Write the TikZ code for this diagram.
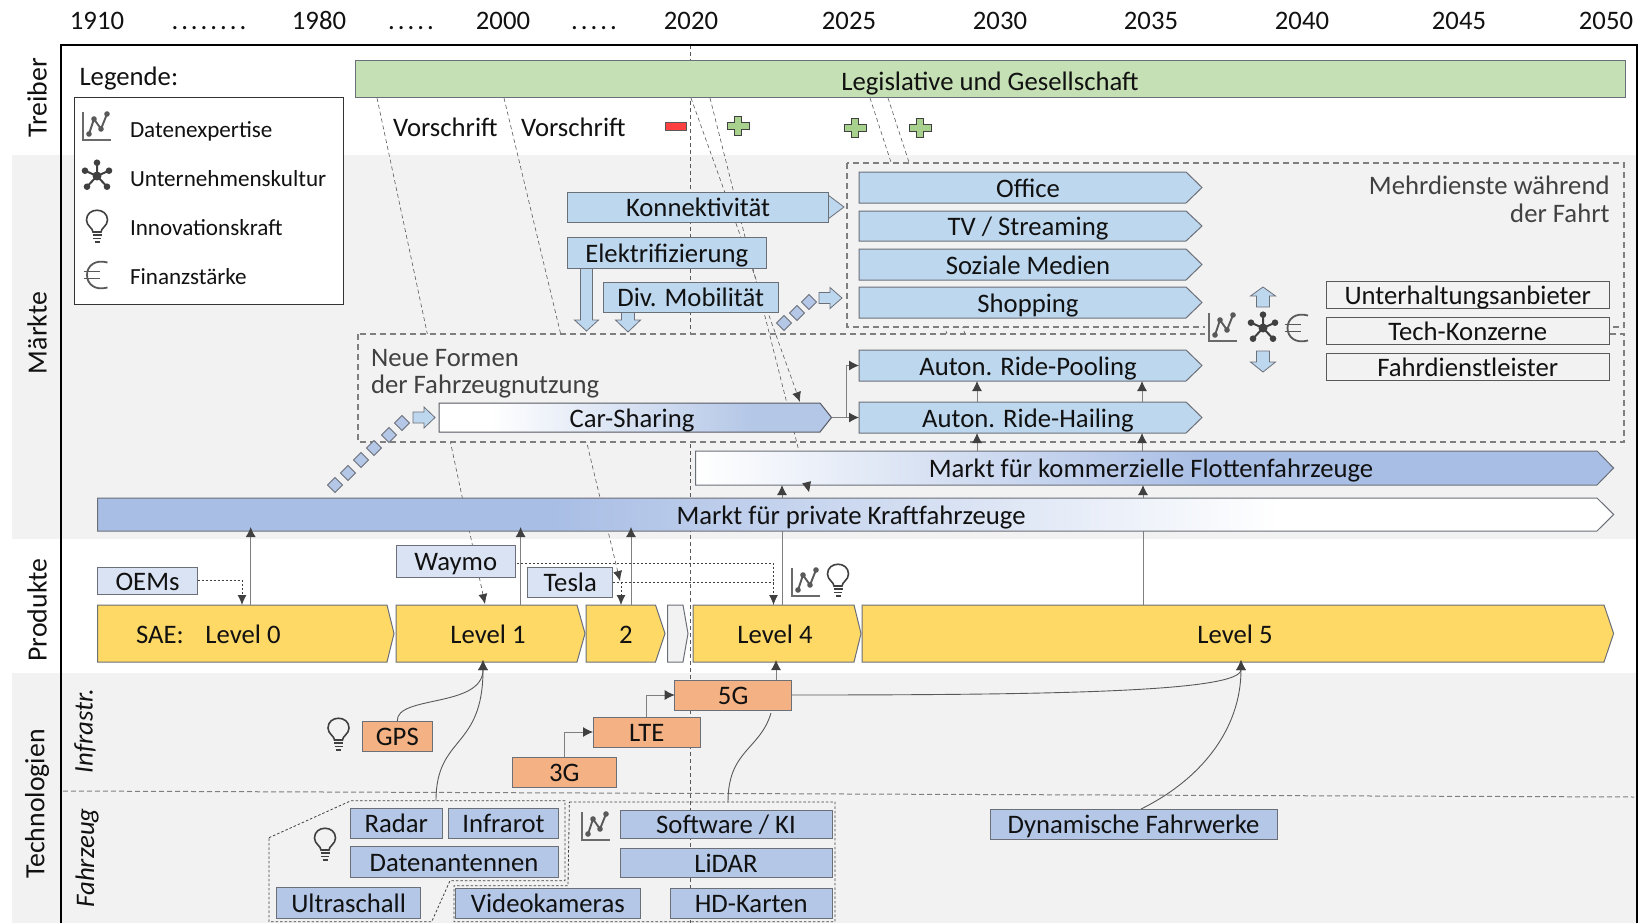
\documentclass[tikz,border=0pt]{standalone}
\usepackage{fontspec}
\setmainfont{Carlito}
\usetikzlibrary{arrows.meta,calc}
\definecolor{bandg}{HTML}{F2F2F2}
\definecolor{lgreen}{HTML}{C5E0B4}
\definecolor{sky}{HTML}{BDD7EE}
\definecolor{steel}{HTML}{B4C7E7}
\definecolor{steeld}{HTML}{A9BEE5}
\definecolor{pale}{HTML}{DAE3F3}
\definecolor{gold}{HTML}{FFD966}
\definecolor{peach}{HTML}{F4B183}
\definecolor{edge}{HTML}{6B6F78}
\definecolor{ink}{HTML}{111111}
\definecolor{icong}{HTML}{595959}
\definecolor{headg}{HTML}{404040}
\definecolor{lineg}{HTML}{7F7F7F}
\definecolor{plusg}{HTML}{A9D18E}
\pgfdeclarehorizontalshading{fadeCar}{100bp}{color(0bp)=(white); color(31.5bp)=(white); color(65bp)=(steel); color(100bp)=(steel)}
\pgfdeclarehorizontalshading{fadeFleet}{100bp}{color(0bp)=(white); color(25bp)=(white); color(53bp)=(steeld); color(100bp)=(steeld)}
\pgfdeclarehorizontalshading{fadePriv}{100bp}{color(0bp)=(steeld); color(40bp)=(steeld); color(64bp)=(white); color(100bp)=(white)}
\newcommand\fsA{\fontsize{26.7}{27.8}\selectfont}
\newcommand\fsB{\fontsize{23.1}{26}\selectfont}
\newcommand\spdot{.\kern3pt}
\newcommand\myBx[7]{\node[#6,minimum width={#4-#2},minimum height={#5-#3}] (#1) at ({(#2+#4)/2},{(#3+#5)/2}) {#7};}
\newcommand\myChev[9]{%
  \draw[#7] (#2,#3) -- (#4,#3) -- (#5,{(#3+#6)/2}) -- (#4,#6) -- (#2,#6) -- cycle;
  \node[inner sep=0,outer sep=0,minimum width={#5-#2},minimum height={#6-#3}] (#1) at ({(#2+#5)/2},{(#3+#6)/2}) {};
  \node[lab] (#1-l) at (#8,{(#3+#6)/2}) {#9};}
\newcommand\myRight[6]{\draw[blocka] (#1,{#4-#5}) -- (#2,{#4-#5}) -- (#2,{#4-#6}) -- (#3,#4) -- (#2,{#4+#6}) -- (#2,{#4+#5}) -- (#1,{#4+#5}) -- cycle;}
\newcommand\myVert[6]{\draw[blocka] ({#4-#5},#1) -- ({#4-#5},#2) -- ({#4-#6},#2) -- (#4,#3) -- ({#4+#6},#2) -- ({#4+#5},#2) -- ({#4+#5},#1) -- cycle;}
\newcommand\myDmd[2]{\draw[blocka,fill=steel] ({#1-7.5},#2) -- (#1,{#2-7.5}) -- ({#1+7.5},#2) -- (#1,{#2+7.5}) -- cycle;}
\tikzset{
  lab/.style={font=\fsA,text=ink,inner sep=0,outer sep=0,text height=23pt,text depth=4pt},
  base/.style={lab,draw=edge,line width=1pt},
  yr/.style={lab},
  side/.style={font=\fontsize{27.8}{30}\selectfont,text=ink,inner sep=0,rotate=90},
  sidei/.style={font=\fontsize{26.8}{28}\selectfont\itshape,text=ink,inner sep=0,rotate=90},
  legt/.style={font=\fsB,text=ink,inner sep=0,anchor=west,text height=21pt,text depth=4pt},
  skyb/.style={base,fill=sky},
  steelb/.style={base,fill=steel},
  paleb/.style={base,fill=pale},
  peachb/.style={base,fill=peach},
  plainb/.style={base,fill=bandg,draw=icong},
  chevsky/.style={fill=sky,draw=edge,line width=1pt},
  chevgold/.style={fill=gold,draw=edge,line width=1pt},
  chevgray/.style={fill=bandg,draw=edge,line width=1pt},
  blocka/.style={fill=sky,draw=edge,line width=.8pt},
  thind/.style={draw=icong,line width=.6pt,dash pattern=on 4pt off 3pt},
  thindarr/.style={thind,-{Latex[length=10pt,width=9pt,color=headg]}},
  groupb/.style={draw=lineg,fill=bandg,line width=1.2pt,dash pattern=on 6pt off 4pt},
  dotl/.style={draw=headg,line width=.9pt,dash pattern=on 2pt off 2pt},
  conn/.style={draw=lineg,line width=.9pt},
  connarr/.style={conn,-{Latex[length=10pt,width=10pt,color=headg]}},
  curvearr/.style={connarr,draw=icong},
  dotarr/.style={dotl,-{Latex[length=10pt,width=9pt,color=headg]}},
  regiond/.style={draw=headg,line width=.8pt,dash pattern=on 2.5pt off 2pt},
  pics/chartic/.style={code={
    \draw[icong!90,line width=2.2pt] (-14,-15) -- (-14,13) -- (14,13);
    \draw[icong,line width=1.9pt] (-8,7) -- (-3,-8) -- (4,2) -- (10,-13);
    \foreach \px/\py in {-8/7,-3/-8,4/2,10/-13}{\fill[icong] (\px,\py) circle (2.8);}
  }},
  pics/netic/.style={code={
    \draw[headg,line width=2pt] (0,0) -- (0,-13.3) (0,0) -- (-12,-5.3) (0,0) -- (12,-5.3) (0,0) -- (-10,10.7) (0,0) -- (10,10.7);
    \foreach \px/\py in {0/-13.3,-12/-5.3,12/-5.3,-10/10.7,10/10.7}{\fill[headg] (\px,\py) circle (3.3);}
    \fill[headg] (0,0) circle (4.5);
  }},
  pics/bulbic/.style={code={
    \draw[headg,line width=1.6pt] (-4,5) .. controls (-4,1) and (-10.5,-1) .. (-10.5,-7) .. controls (-10.5,-20) and (10.5,-20) .. (10.5,-7) .. controls (10.5,-1) and (4,1) .. (4,5) -- cycle;
    \draw[headg,line width=1.6pt] (-4.5,8) -- (4.5,8) (-4,11.3) -- (4,11.3) (-2.5,14.8) -- (2.5,14.8);
  }},
  pics/euroic/.style={code={
    \draw[icong,line width=1.8pt] (10.5,-12.5) .. controls (-2,-16) and (-10,-9) .. (-10,0) .. controls (-10,9) and (-2,16) .. (10.5,12.5);
    \draw[icong,line width=1.8pt] (-13,-3.5) -- (3,-3.5) (-13,3.5) -- (3,3.5);
  }},
}
\begin{document}
\begin{tikzpicture}[x=1pt,y=-1pt,every node/.style={outer sep=0}]
\useasboundingbox (0,0) rectangle (1641,923);
\fill[white] (0,0) rectangle (1641,923);
% bands
\fill[bandg] (12,155) rectangle (1637,539);
\fill[bandg] (12,673) rectangle (1637,923);
% helper verticals
\coordinate (xa) at (250.7,0);
\coordinate (xb) at (520.6,0);
\coordinate (xc) at (631,0);
\coordinate (xd) at (782,0);
\coordinate (xe) at (1143,0);
\coordinate (xf) at (977,0);
\coordinate (xg) at (1142,0);
\coordinate (xh) at (242,0);
\coordinate (xi) at (773.5,0);
\coordinate (xj) at (621,0);
\coordinate (xk) at (776,0);
\coordinate (xl) at (483,0);
\coordinate (xm) at (1241,0);
\coordinate (xn) at (846,0);
% year labels
\node[yr] (y1910) at (97,20) {1910};
\node[yr] (d1) at (209,20) {\spdot\spdot\spdot\spdot\spdot\spdot\spdot.};
\node[yr] (y1980) at (319,20) {1980};
\node[yr] (d2) at (411,20) {\spdot\spdot\spdot\spdot.};
\node[yr] (y2000) at (503,20) {2000};
\node[yr] (d3) at (594,20) {\spdot\spdot\spdot\spdot.};
\node[yr] (y2020) at (691,20) {2020};
\node[yr] (y2025) at (849,20) {2025};
\node[yr] (y2030) at (1000,20) {2030};
\node[yr] (y2035) at (1151,20) {2035};
\node[yr] (y2040) at (1302,20) {2040};
\node[yr] (y2045) at (1459,20) {2045};
\node[yr] (y2050) at (1606,20) {2050};
% side labels
\node[side] (sT) at (37,98) {Treiber};
\node[side] (sM) at (37,333) {Märkte};
\node[side] (sP) at (37,610) {Produkte};
\node[side] (sG) at (37,804) {Technologien};
\node[sidei] (sI) at (85,731) {Infrastr.};
\node[sidei] (sF) at (87,858) {Fahrzeug};
% hairlines behind everything
\coordinate (gA) at (377,98);   \coordinate (eA) at (485,604);
\coordinate (gB) at (504,98);   \coordinate (eB) at (620,581);
\coordinate (gC) at (691,98);   \coordinate (eC) at (800,402);
\coordinate (gD) at (710,98);   \coordinate (eD) at (809,492);
\coordinate (mD) at (803.7,470);
\coordinate (gE) at (870,98);   \coordinate (eE) at (947,334);
\coordinate (gF) at (888,98);   \coordinate (eF) at (965,334);
\draw[thind] (690,45) -- (690,923);
\draw[thindarr] (gA) -- (eA);
\draw[thindarr] (gB) -- (eB);
\draw[thind] (gE) -- (eE);
\draw[thind] (gF) -- (eF);
% frame
\draw[black,line width=1.9pt] (61,923) -- (61,45) -- (1637,45) -- (1637,923);
% dashed separator
\draw[lineg,line width=1pt,dash pattern=on 5pt off 3pt] (63,791) -- (1634,797);
% group boxes
\draw[groupb] (847,163) rectangle (1624,327);
\draw[groupb] (358,334) rectangle (1624,442);
\fill[bandg] (1205,322) rectangle (1326,340);
\draw[thindarr] (gC) -- (eC);
\draw[thind] (gD) -- (mD);
% legend
\node[lab,anchor=west] (legt) at (79.5,76) {Legende:};
\myBx{legbox}{74}{98}{343}{304}{base,fill=white,draw=black!80}{}
\pic at (97,127) {chartic};
\pic at (97,176) {netic};
\pic at (97,227) {bulbic};
\pic at (97,275) {euroic};
\node[legt] (l1) at (130,129) {Datenexpertise};
\node[legt] (l2) at (130,178) {Unternehmenskultur};
\node[legt] (l3) at (130,227) {Innovationskraft};
\node[legt] (l4) at (130,276) {Finanzstärke};
% drivers
\myBx{leg}{355}{61}{1625}{98}{base,fill=lgreen}{}
\node[lab] (legl) at (990,81) {Legislative und Gesellschaft};
\node[lab,anchor=west] (v1) at (393,127) {Vorschrift};
\node[lab,anchor=west] (v2) at (521,127) {Vorschrift};
\draw[fill=red!75!white,draw=icong,line width=.9pt] (665,122) rectangle (686,130);
\foreach \cx/\cy in {738/126,855/128,920/128}{
  \draw[fill=plusg,draw=headg,line width=.9pt]
   ({\cx-3.7},{\cy-9.5}) -- ({\cx+3.7},{\cy-9.5}) -- ({\cx+3.7},{\cy-3.7}) -- ({\cx+11},{\cy-3.7}) -- ({\cx+11},{\cy+3.7}) -- ({\cx+3.7},{\cy+3.7}) -- ({\cx+3.7},{\cy+9.5}) -- ({\cx-3.7},{\cy+9.5}) -- ({\cx-3.7},{\cy+3.7}) -- ({\cx-11},{\cy+3.7}) -- ({\cx-11},{\cy-3.7}) -- ({\cx-3.7},{\cy-3.7}) -- cycle;}
% market blocks
\myRight{826}{828}{844}{207}{7}{12}
\myBx{kon}{567.5}{192}{828}{222}{skyb}{}
\node[lab] (konl) at (698,207) {Konnektivität};
\myVert{268}{320}{331}{586.5}{6}{12}
\myVert{312}{320}{332}{628}{6.5}{12.5}
\myBx{ele}{567.5}{237}{766}{268}{skyb}{Elektrifizierung}
\myBx{div}{603.5}{282}{778}{312}{skyb}{Div. Mobilität}
\myDmd{784}{323}\myDmd{797}{313}\myDmd{809}{302}
\myRight{819}{830}{842}{298}{5.5}{10.5}
\myChev{off}{859}{172}{1186}{1202}{203}{chevsky}{1028}{Office}
\myChev{tvs}{859}{211}{1186}{1202}{241}{chevsky}{1028}{TV / Streaming}
\myChev{soz}{859}{249}{1186}{1202}{280}{chevsky}{1028}{Soziale Medien}
\myChev{sho}{859}{287}{1186}{1202}{318}{chevsky}{1028}{Shopping}
\node[font=\fsA,text=ink!80,align=right,anchor=north east,inner sep=0] (mehr) at (1609.5,176) {Mehrdienste während\\der Fahrt};
\node[font=\fsA,text=ink!80,align=left,anchor=north west,inner sep=0] (neue) at (371,349) {Neue Formen\\der Fahrzeugnutzung};
\myBx{unt}{1326}{281}{1609.5}{308}{plainb}{Unterhaltungsanbieter}
\myBx{tec}{1326}{317}{1609.5}{344}{plainb}{Tech-Konzerne}
\myBx{fah}{1326}{353}{1609.5}{380}{plainb}{Fahrdienstleister}
\pic at (1223,328) {chartic};
\pic at (1263,328) {netic};
\pic at (1297.5,328) {euroic};
\myVert{307}{296}{287}{1263}{6.5}{12.5}
\myVert{351}{362}{372}{1263}{6.5}{12.5}
\myChev{poo}{859}{350}{1186}{1202}{381}{chevsky}{1028}{Auton. Ride-Pooling}
\myChev{hai}{859}{402}{1186}{1202}{433}{chevsky}{1028}{Auton. Ride-Hailing}
\myDmd{402}{423}\myDmd{389}{435}\myDmd{374}{448}\myDmd{361}{460}\myDmd{348}{473}\myDmd{335}{485}
\myRight{413}{424}{435}{417.5}{5.5}{10.5}
\myChev{car}{439}{403}{820}{831.5}{432}{shading=fadeCar,draw=edge!80!black,line width=1pt}{632}{Car-Sharing}
\draw[connarr] (car.east) -- (hai.west);
\draw[connarr] (car.east -| xn) |- (poo.west);
\draw[connarr] (hai.north -| xf) -- (poo.south -| xf);
\draw[connarr] (hai.north -| xg) -- (poo.south -| xg);
% long bars (arrows from levels run behind the private-car bar)
\coordinate (fleetb) at (800,485);
\draw[connarr] (xd |- 0,605) -- (xd |- fleetb);
\draw[connarr] (xe |- 0,605) -- (xe |- fleetb);
\myChev{fle}{695.6}{451}{1597}{1613.6}{485}{shading=fadeFleet,draw=edge,line width=1pt}{1151}{Markt für kommerzielle Flottenfahrzeuge}
\draw[connarr] (fle.north -| xf) -- (hai.south -| xf);
\draw[connarr] (fle.north -| xg) -- (hai.south -| xg);
\fill[headg] (eD) -- (811,481.2) -- (802.2,483.4) -- cycle;
\myChev{pri}{97.6}{498}{1597}{1613.6}{531}{shading=fadePriv,draw=edge,line width=1pt}{851}{Markt für private Kraftfahrzeuge}
% product row
\myChev{lev0}{97.6}{605}{387}{394}{662}{chevgold}{243}{Level 0}
\node[lab] (sae) at (160,633.5) {SAE:};
\myChev{lev1}{396}{605}{577}{585}{662}{chevgold}{488}{Level 1}
\myChev{lev2}{586}{605}{655.5}{665}{662}{chevgold}{626}{2}
\myChev{lev3}{667.6}{605}{683}{688}{662}{chevgray}{676}{}
\myChev{lev4}{693}{605}{854}{861}{662}{chevgold}{775}{Level 4}
\myChev{lev5}{862}{605}{1604}{1613.6}{662}{chevgold}{1235}{Level 5}
\myBx{oem}{97.6}{567}{197.5}{594}{paleb}{OEMs}
\myBx{way}{396.6}{545}{515}{577}{paleb}{Waymo}
\myBx{tes}{527.7}{567}{612.7}{597}{paleb}{Tesla}
\draw[connarr] (lev0.north -| xa) -- ([yshift=4pt]pri.south -| xa);
\draw[connarr] (lev1.north -| xb) -- ([yshift=4pt]pri.south -| xb);
\draw[connarr] (lev2.north -| xc) -- ([yshift=4pt]pri.south -| xc);
\draw[dotarr] (oem.east) -| (lev0.north -| xh);
\draw[dotarr] ([xshift=2pt,yshift=-2pt]way.east) -| (lev4.north -| xi);
\draw[dotl] (tes.east) -- (tes.east -| xi);
\draw[dotarr] (tes.east -| xj) -- (lev2.north -| xj);
\pic at (806,583) {chartic};
\pic at (838,581) {bulbic};
% infrastructure
\myBx{g5}{674.7}{680}{791.6}{710}{peachb}{5G}
\myBx{lte}{593}{717}{700.5}{747}{peachb}{LTE}
\myBx{g3}{512}{757}{616.6}{787}{peachb}{3G}
\myBx{gps}{362.6}{721}{432}{751}{peachb}{GPS}
\pic at (338.5,735) {bulbic};
\draw[connarr] (g3.north) |- (lte.west);
\draw[connarr] (lte.north) |- (g5.west);
\draw[connarr] (g5.north -| xk) -- ([yshift=2pt]lev4.south -| xk);
\draw[curvearr] (g5.east) .. controls (1050,695) and (1241,692) .. ([yshift=2pt]lev5.south -| xm);
\draw[curvearr] (gps.north) .. controls (396,695) and (483,708) .. ([yshift=2pt]lev1.south -| xl);
% vehicle technology
\draw[regiond] (269,837.7) -- (351,800.7) -- (565,800.7) -- (565,880.7) -- (450,880.7) -- (431.7,921.7) -- (269,921.7) -- cycle;
\draw[regiond] (569.4,802) -- (835,802) -- (835,921.7) -- (454,921.7) -- (454,885.7) -- (568,885.7) -- cycle;
\coordinate (sensT) at (436,800.7);
\coordinate (softT) at (728,802);
\draw[curvearr] (sensT) .. controls (436,735) and (483,750) .. ([yshift=2pt]lev1.south -| xl);
\draw[conn,draw=icong] (softT) .. controls (728,750) and (760,750) .. (771,713);
\myBx{rad}{350}{808.7}{442.7}{838}{steelb}{Radar}
\myBx{inf}{448.7}{808.7}{558.4}{838}{steelb}{Infrarot}
\myBx{dat}{350}{846.7}{558}{877.7}{steelb}{Datenantennen}
\myBx{ult}{276.5}{887.7}{420.7}{918}{steelb}{Ultraschall}
\myBx{vid}{455}{888}{640.7}{918}{steelb}{Videokameras}
\myBx{hdk}{670.3}{888}{832}{918}{steelb}{HD-Karten}
\myBx{sof}{620}{810}{832}{838.7}{steelb}{Software / KI}
\myBx{lid}{620}{848.7}{832}{877.7}{steelb}{LiDAR}
\myBx{dyn}{990}{809}{1277}{839}{steelb}{Dynamische Fahrwerke}
\coordinate (dynT) at (1141,809);
\draw[curvearr] (dynT) .. controls (1200,780) and (1241,730) .. ([yshift=2pt]lev5.south -| xm);
\pic at (325,845) {bulbic};
\pic at (596,827) {chartic};
\end{tikzpicture}
\end{document}
